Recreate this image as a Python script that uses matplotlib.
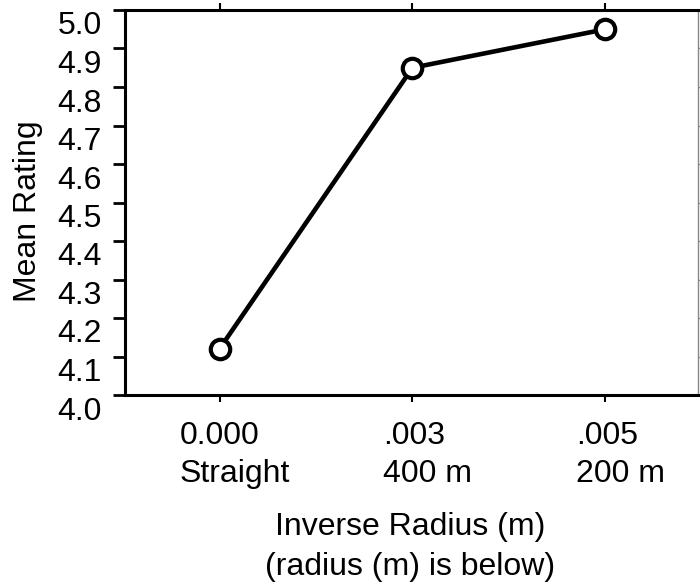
import numpy as np
import matplotlib
matplotlib.use("Agg")
import matplotlib.pyplot as plt
from matplotlib.transforms import ScaledTranslation

# curve data: inverse radius vs. mean rating
inv_radius = ["0.000", ".003", ".005"]
radius_lbl = ["Straight", "400 m", "200 m"]
mean_rating = [4.12, 4.85, 4.95]
yticks = [4.0, 4.1, 4.2, 4.3, 4.4, 4.5, 4.6, 4.7, 4.8, 4.9, 5.0]

plt.rcParams['font.family'] = ['Liberation Sans', 'DejaVu Sans']
fs = 23

fig = plt.figure(figsize=(7, 5.88), dpi=100)
ax = fig.add_axes([125/700, 1-395/588, 573/700, 385/588])

x = np.arange(len(mean_rating))
ax.plot(x, mean_rating, '-o', color='black', lw=3.3, ms=14,
        mfc='white', mec='black', mew=3, clip_on=False, zorder=3)

ax.set_xlim(-0.49, 2.48)
ax.set_ylim(4.0, 5.0)
ax.set_yticks(yticks)
ax.set_yticklabels(["%.1f" % v for v in yticks], fontsize=fs)
ax.set_xticks(x)
ax.set_xticklabels([a + "\n" + b for a, b in zip(inv_radius, radius_lbl)],
                   fontsize=fs, multialignment='left', linespacing=1.32)

ax.tick_params(axis='y', left=True, right=True, direction='out', length=8.5, width=2, pad=8)
ax.tick_params(axis='x', bottom=True, top=True, direction='out', length=5, width=1.5, pad=14)

for s in ['left', 'bottom', 'top']:
    ax.spines[s].set_linewidth(2.2)
ax.spines['right'].set_linewidth(1)
ax.spines['right'].set_color('#888888')

ax.set_ylabel("Mean Rating", fontsize=fs)
ax.yaxis.set_label_coords(-0.143, 0.478)
ax.set_xlabel("Inverse Radius (m)\n(radius (m) is below)", fontsize=fs, linespacing=1.42)
ax.xaxis.set_label_coords(0.497, -0.305)

# right-hand ticks are tiny and grey
for tl in ax.yaxis.get_ticklines()[1::2]:
    tl.set_markersize(2)
    tl.set_markeredgecolor('#888888')
    tl.set_markeredgewidth(1)

# shift tick labels down / right as in the original layout
for t in ax.get_yticklabels():
    t.set_transform(t.get_transform() + ScaledTranslation(0, -13/100, fig.dpi_scale_trans))
for t in ax.get_xticklabels():
    t.set_transform(t.get_transform() + ScaledTranslation(15/100, 0, fig.dpi_scale_trans))

fig.savefig("out.png", dpi=100)
